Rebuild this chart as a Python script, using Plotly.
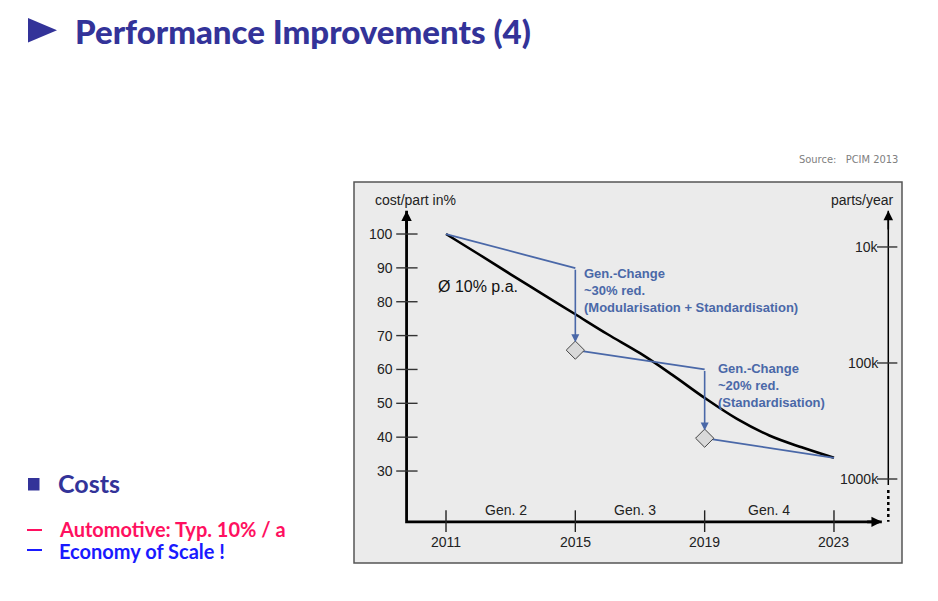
import plotly.graph_objects as go

# ---------------- data ----------------
years = [2011, 2012, 2013, 2014, 2015, 2016, 2017, 2018, 2019, 2020, 2021, 2022, 2023]
cost_trend = [100, 94.1, 88.1, 82.2, 76.3, 70.4, 64.8, 58.4, 51.6, 45.4, 40.5, 37.0, 33.9]

gen_start_year = [2011, 2015, 2019]
gen_end_year = [2015, 2019, 2023]
gen_start_cost = [100, 65.7, 39.7]
gen_end_cost = [89.9, 60.0, 33.9]

cost_ticks = [30, 40, 50, 60, 70, 80, 90, 100]
year_ticks = [2011, 2015, 2019, 2023]
volume_ticks = [1e4, 1e5, 1e6]
volume_labels = ["10k", "100k", "1000k"]
gen_names = ["Gen. 2", "Gen. 3", "Gen. 4"]
gen_label_year = [2012.85, 2016.85, 2021.0]

change_text = [
    "<b>Gen.-Change<br>~30% red.<br>(Modularisation + Standardisation)</b>",
    "<b>Gen.-Change<br>~20% red.<br>(Standardisation)</b>",
]

# ---------------- geometry / style ----------------
W, H = 938, 601
ML, MR, MT, MB = 354, 36, 182, 38
PW, PH = W - ML - MR, H - MT - MB
XR = [2008.154, 2025.104]
YR = [2.84, 115.36]
Y2R = [6.724, 3.440]

AX_X = 2009.78      # left axis position (year units)
AX_Y = 15.0         # bottom axis position (cost units)
RAX_X = 2024.68     # right axis position
Y_TIP = 106.9
X_TIP = 2024.48
R_SOLID_END = 25.9

BLUE = "#4a68a8"
TXT = "#222222"
FONT = "Liberation Sans, Arial, sans-serif"
SLIDE_FONT = "Lato, sans-serif"
SMALL_FONT = "DejaVu Sans Condensed, DejaVu Sans, sans-serif"
NAVY = "#333399"
RED = "#ff1060"
BRIGHT_BLUE = "#1a1aff"


def px(x):
    return (x - ML) / PW


def py(y):
    return (MT + PH - y) / PH


fig = go.Figure()

# axes (drawn as lines)
fig.add_trace(go.Scatter(x=[AX_X, AX_X, X_TIP], y=[Y_TIP, AX_Y, AX_Y], mode="lines",
                         line=dict(color="black", width=2.8), hoverinfo="skip"))
fig.add_trace(go.Scatter(x=[RAX_X, RAX_X], y=[Y_TIP, R_SOLID_END], mode="lines",
                         line=dict(color="black", width=1.5), hoverinfo="skip"))
fig.add_trace(go.Scatter(x=[RAX_X, RAX_X], y=[R_SOLID_END - 1.5, AX_Y], mode="lines",
                         line=dict(color="black", width=2.5, dash="dot"), hoverinfo="skip"))

# left ticks
tx, ty = [], []
for c in cost_ticks:
    tx += [AX_X - 0.32, AX_X + 0.34, None]
    ty += [c, c, None]
fig.add_trace(go.Scatter(x=tx, y=ty, mode="lines", line=dict(color="#333333", width=1.4),
                         hoverinfo="skip"))
# bottom ticks
tx, ty = [], []
for yv in year_ticks:
    tx += [yv, yv, None]
    ty += [AX_Y + 3.4, AX_Y - 3.0, None]
fig.add_trace(go.Scatter(x=tx, y=ty, mode="lines", line=dict(color="#222222", width=1.4),
                         hoverinfo="skip"))
# right ticks (log volume axis)
tx, ty = [], []
for v in volume_ticks:
    tx += [RAX_X - 0.35, RAX_X + 0.28, None]
    ty += [v, v, None]
fig.add_trace(go.Scatter(x=tx, y=ty, yaxis="y2", mode="lines",
                         line=dict(color="#333333", width=1.4), hoverinfo="skip"))

# trend line
fig.add_trace(go.Scatter(x=years, y=cost_trend, mode="lines",
                         line=dict(color="black", width=2.6, shape="spline", smoothing=1.0),
                         hoverinfo="skip"))

# generation lines
for i in range(len(gen_start_year)):
    fig.add_trace(go.Scatter(x=[gen_start_year[i], gen_end_year[i]],
                             y=[gen_start_cost[i], gen_end_cost[i]], mode="lines",
                             line=dict(color=BLUE, width=1.8), hoverinfo="skip"))

# diamonds
fig.add_trace(go.Scatter(x=gen_start_year[1:], y=gen_start_cost[1:], mode="markers",
                         marker=dict(symbol="diamond", size=14, color="#d9d9d9",
                                     line=dict(color="#444444", width=1)),
                         hoverinfo="skip"))

ann = []
# vertical arrows for generation change
for i in range(1, len(gen_start_year)):
    ann.append(dict(x=gen_start_year[i], y=gen_start_cost[i] + 2.3, ax=gen_end_year[i - 1],
                    ay=gen_end_cost[i - 1], xref="x", yref="y", axref="x", ayref="y",
                    showarrow=True, arrowhead=2, arrowsize=1, arrowwidth=1.6,
                    arrowcolor=BLUE, text="", standoff=0))
# axis arrowheads
ann.append(dict(x=AX_X, y=Y_TIP, ax=AX_X, ay=Y_TIP - 6, xref="x", yref="y", axref="x", ayref="y",
                showarrow=True, arrowhead=2, arrowsize=0.8, arrowwidth=2.6, arrowcolor="black", text=""))
ann.append(dict(x=RAX_X, y=Y_TIP, ax=RAX_X, ay=Y_TIP - 6, xref="x", yref="y", axref="x", ayref="y",
                showarrow=True, arrowhead=2, arrowsize=1.2, arrowwidth=1.6, arrowcolor="black", text=""))
ann.append(dict(x=X_TIP, y=AX_Y, ax=X_TIP - 0.5, ay=AX_Y, xref="x", yref="y", axref="x", ayref="y",
                showarrow=True, arrowhead=2, arrowsize=0.8, arrowwidth=2.6, arrowcolor="black", text=""))

# tick labels
for c in cost_ticks:
    ann.append(dict(x=AX_X - 0.36, y=c, xref="x", yref="y", text=str(c), showarrow=False,
                    xanchor="right", yanchor="middle", font=dict(family=FONT, size=14, color=TXT)))
for yv in year_ticks:
    ann.append(dict(x=yv, y=AX_Y - 6.0, xref="x", yref="y", text=str(yv), showarrow=False,
                    xanchor="center", yanchor="middle", font=dict(family=FONT, size=14, color=TXT)))
for v, lab in zip(volume_ticks, volume_labels):
    ann.append(dict(x=RAX_X - 0.24, y=5 if v == 1e5 else (4 if v == 1e4 else 6), xref="x", yref="y2",
                    text=lab, showarrow=False, xanchor="right", yanchor="middle",
                    font=dict(family=FONT, size=14, color=TXT)))
for g, gx in zip(gen_names, gen_label_year):
    ann.append(dict(x=gx, y=AX_Y + 3.6, xref="x", yref="y", text=g, showarrow=False,
                    xanchor="center", yanchor="middle", font=dict(family=FONT, size=14, color=TXT)))

# axis titles
ann.append(dict(x=px(373), y=py(200), xref="paper", yref="paper", text="cost/part in%",
                showarrow=False, xanchor="left", yanchor="middle", font=dict(family=FONT, size=14, color=TXT)))
ann.append(dict(x=px(896), y=py(200), xref="paper", yref="paper", text="parts/year",
                showarrow=False, xanchor="right", yanchor="middle", font=dict(family=FONT, size=14, color=TXT)))

# in-chart texts
ann.append(dict(x=2010.7, y=84.4, xref="x", yref="y", text="Ø 10% p.a.", showarrow=False,
                xanchor="left", yanchor="middle", font=dict(family=FONT, size=16, color="#111111")))
ann.append(dict(x=2015.2, y=91.2, xref="x", yref="y", text=change_text[0], showarrow=False,
                xanchor="left", yanchor="top", align="left", font=dict(family=FONT, size=13, color=BLUE)))
ann.append(dict(x=2019.34, y=63.1, xref="x", yref="y", text=change_text[1], showarrow=False,
                xanchor="left", yanchor="top", align="left", font=dict(family=FONT, size=13, color=BLUE)))

# slide texts
ann.append(dict(x=px(900), y=py(159), xref="paper", yref="paper", text="Source:   PCIM 2013",
                showarrow=False, xanchor="right", yanchor="middle",
                font=dict(family=SMALL_FONT, size=11, color="#808080")))
ann.append(dict(x=px(73), y=py(31), xref="paper", yref="paper",
                text="Performance Improvements (4)", showarrow=False, xanchor="left",
                yanchor="middle", font=dict(family=SLIDE_FONT, size=33, color=NAVY, weight=900)))
ann.append(dict(x=px(56), y=py(483), xref="paper", yref="paper", text="<b>Costs</b>",
                showarrow=False, xanchor="left", yanchor="middle",
                font=dict(family=SLIDE_FONT, size=25, color=NAVY)))
ann.append(dict(x=px(57), y=py(529), xref="paper", yref="paper", text="<b>Automotive: Typ. 10% / a</b>",
                showarrow=False, xanchor="left", yanchor="middle",
                font=dict(family=SLIDE_FONT, size=20, color=RED)))
ann.append(dict(x=px(57), y=py(551), xref="paper", yref="paper", text="<b>Economy of Scale !</b>",
                showarrow=False, xanchor="left", yanchor="middle",
                font=dict(family=SLIDE_FONT, size=20, color=BRIGHT_BLUE)))

shapes = [
    dict(type="rect", xref="paper", yref="paper", x0=0, y0=0, x1=1, y1=1,
         line=dict(color="#555555", width=1.5), layer="below"),
    dict(type="path", xref="paper", yref="paper",
         path=f"M{px(28)},{py(18)} L{px(28)},{py(42.5)} L{px(57)},{py(30.2)} Z",
         fillcolor=NAVY, line=dict(width=0)),
    dict(type="rect", xref="paper", yref="paper", x0=px(28), y0=py(490.5), x1=px(39.5), y1=py(478),
         fillcolor=NAVY, line=dict(width=0)),
    dict(type="line", xref="paper", yref="paper", x0=px(27), x1=px(42), y0=py(530), y1=py(530),
         line=dict(color=RED, width=2)),
    dict(type="line", xref="paper", yref="paper", x0=px(27), x1=px(42), y0=py(550), y1=py(550),
         line=dict(color=BRIGHT_BLUE, width=2)),
]

fig.update_layout(
    width=W, height=H, autosize=False,
    margin=dict(l=ML, r=MR, t=MT, b=MB, pad=0),
    paper_bgcolor="white", plot_bgcolor="#ebebeb",
    showlegend=False,
    xaxis=dict(range=XR, visible=False, fixedrange=True),
    yaxis=dict(range=YR, visible=False, fixedrange=True),
    yaxis2=dict(type="log", range=Y2R, overlaying="y", visible=False, fixedrange=True),
    annotations=ann, shapes=shapes,
)

fig.write_html("out.html", config={"displayModeBar": False},
               post_script="document.body.style.margin='0';")
